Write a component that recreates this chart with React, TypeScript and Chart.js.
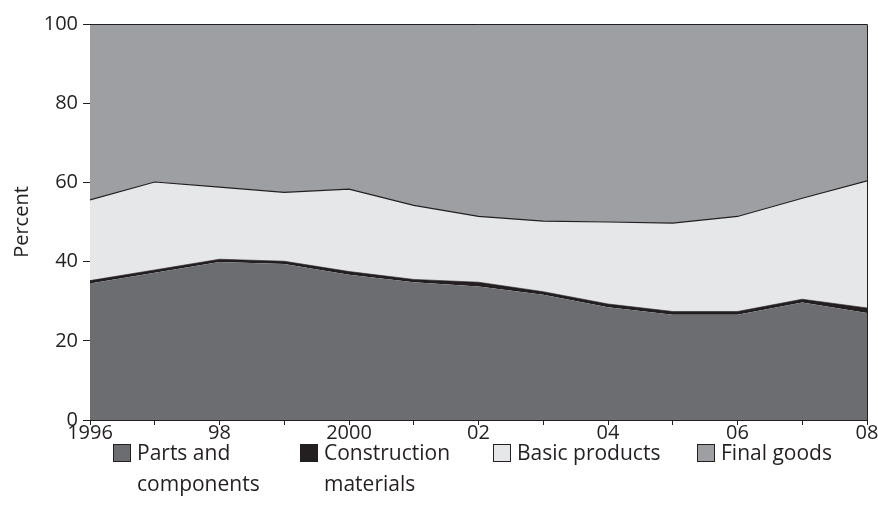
import React, { useEffect, useRef } from 'react';
import { Chart, registerables } from 'chart.js';

Chart.register(...registerables);

const years = ['1996', '1997', '1998', '1999', '2000', '2001', '2002', '2003', '2004', '2005', '2006', '2007', '2008'];
const xTickLabels = ['1996', '', '98', '', '2000', '', '02', '', '04', '', '06', '', '08'];
const yTickValues = [0, 20, 40, 60, 80, 100];
const yAxisTitle = 'Percent';

const partsAndComponents = [34.5, 37.2, 39.9, 39.4, 36.7, 34.8, 33.7, 31.6, 28.5, 26.6, 26.6, 29.7, 27.0];
const constructionMaterials = [0.7, 0.7, 0.7, 0.7, 0.8, 0.7, 1.1, 0.8, 0.8, 0.8, 0.8, 0.8, 1.3];
const basicProducts = [20.4, 22.2, 18.2, 17.4, 20.8, 18.7, 16.6, 17.8, 20.7, 22.3, 24.0, 25.5, 32.1];
const finalGoods = [44.4, 39.9, 41.2, 42.5, 41.7, 45.8, 48.6, 49.8, 50.0, 50.3, 48.6, 44.0, 39.6];

const seriesNames = ['Parts and\ncomponents', 'Construction\nmaterials', 'Basic products', 'Final goods'];

const FONT = '"Open Sans", "Noto Sans", sans-serif';
const INK = '#231f20';
const COLORS = ['#6c6d71', '#231f20', '#e6e7e8', '#9e9fa3'];
const LEGEND_X = [113, 300, 493, 697];

const framePlugin = {
  id: 'frame',
  afterDraw(chart: any) {
    const { ctx, chartArea } = chart;
    const { left, right, top, bottom } = chartArea;
    ctx.save();
    ctx.strokeStyle = INK;
    ctx.lineWidth = 1;
    ctx.beginPath();
    ctx.moveTo(left, Math.round(top) + 0.5);
    ctx.lineTo(Math.round(right) + 0.5, Math.round(top) + 0.5);
    ctx.lineTo(Math.round(right) + 0.5, bottom);
    ctx.stroke();
    ctx.restore();
  },
};

const legendPlugin = {
  id: 'customLegend',
  afterDraw(chart: any) {
    const { ctx } = chart;
    ctx.save();
    ctx.font = `21px ${FONT}`;
    ctx.textBaseline = 'middle';
    ctx.textAlign = 'left';
    const boxTop = 444;
    const boxW = 18;
    const boxH = 18;
    const lineGap = 31;
    chart.data.datasets.forEach((ds: any, i: number) => {
      const x = LEGEND_X[i];
      ctx.fillStyle = ds.backgroundColor;
      ctx.fillRect(x, boxTop, boxW, boxH);
      ctx.strokeStyle = INK;
      ctx.lineWidth = 1;
      ctx.strokeRect(x + 0.5, boxTop + 0.5, boxW - 1, boxH - 1);
      ctx.fillStyle = INK;
      const lines = String(ds.label).split('\n');
      lines.forEach((ln: string, j: number) => {
        ctx.fillText(ln, x + boxW + 6, boxTop + boxH / 2 + 1 + j * lineGap);
      });
    });
    ctx.restore();
  },
};

export default function App() {
  const ref = useRef<HTMLCanvasElement | null>(null);

  useEffect(() => {
    if (!ref.current) return;
    const seriesData = [partsAndComponents, constructionMaterials, basicProducts, finalGoods];
    const chart = new Chart(ref.current, {
      type: 'line',
      data: {
        labels: years,
        datasets: seriesData.map((d, i) => ({
          label: seriesNames[i],
          data: d,
          backgroundColor: COLORS[i],
          borderColor: INK,
          borderWidth: i === 0 ? 0 : i === 1 ? 0.6 : i === 2 ? 1.2 : 0,
          fill: i === 0 ? 'origin' : '-1',
          pointRadius: 0,
          pointHoverRadius: 0,
          tension: 0,
        })),
      },
      options: {
        animation: false,
        responsive: false,
        events: [],
        layout: { padding: { top: 24, right: 11, left: 0, bottom: 0 } },
        plugins: { legend: { display: false }, tooltip: { enabled: false } },
        scales: {
          x: {
            type: 'category',
            offset: false,
            afterFit: (s: any) => { s.height = 99; },
            grid: { drawOnChartArea: false, drawTicks: true, tickLength: 5, color: INK, lineWidth: 1 },
            border: { display: true, color: INK, width: 1 },
            ticks: {
              autoSkip: false,
              maxRotation: 0,
              padding: -4,
              color: INK,
              font: { family: FONT, size: 20 },
              callback: (_v: any, i: number) => xTickLabels[i],
            },
          },
          y: {
            stacked: true,
            min: 0,
            max: 100,
            afterFit: (s: any) => { s.width = 90; },
            afterBuildTicks: (s: any) => { s.ticks = yTickValues.map((v) => ({ value: v })); },
            grid: { drawOnChartArea: false, drawTicks: true, tickLength: 7, color: INK, lineWidth: 1 },
            border: { display: true, color: INK, width: 1 },
            ticks: {
              padding: 5,
              color: INK,
              font: { family: FONT, size: 20 },
              callback: (v: any) => String(v),
            },
            title: {
              display: true,
              text: yAxisTitle,
              color: INK,
              font: { family: FONT, size: 20 },
              padding: { top: 10, bottom: 0 },
            },
          },
        },
      },
      plugins: [framePlugin, legendPlugin],
    });
    return () => chart.destroy();
  }, []);

  return (
    <div style={{ position: 'absolute', left: 0, top: 0, width: 878, height: 519, background: '#ffffff' }}>
      <canvas ref={ref} width={878} height={519} style={{ display: 'block' }} />
    </div>
  );
}
